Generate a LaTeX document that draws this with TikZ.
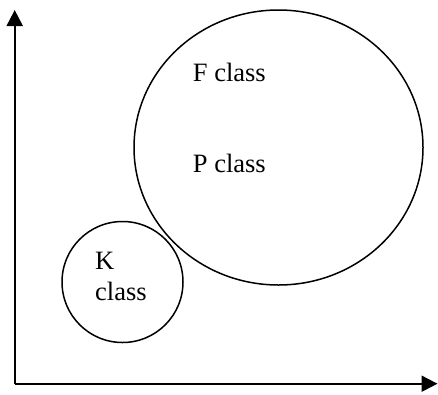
\documentclass[tikz,border=0pt]{standalone}
\usepackage{fontspec}
\setmainfont{Liberation Serif}
\usetikzlibrary{arrows.meta,shapes.geometric}
\begin{document}
\begin{tikzpicture}[x=1pt,y=-1pt,
  axis/.style={line width=2pt,-{Triangle[length=16pt,width=16pt]}},
  setshape/.style={draw,line width=1.5pt,inner sep=0pt},
  lbl/.style={anchor=base west,inner sep=0pt,font=\fontsize{26.5pt}{31pt}\selectfont}]
\useasboundingbox (0,0) rectangle (438,394);
\coordinate (o) at (14.7,383.7);
\coordinate (ytip) at (14.7,10);
\coordinate (xtip) at (437.5,383.7);
\draw[axis] (o) -- (ytip);
\draw[axis] (o) -- (xtip);
\node[setshape,ellipse,minimum width=289pt,minimum height=275pt] (big) at (278.5,147.5) {};
\node[setshape,circle,minimum size=121pt] (small) at (122.5,282) {};
\node[lbl] (f) at (192.7,81.7) {F class};
\node[lbl] (p) at (192.7,172) {P class};
\node[lbl] (k) at (95,269) {K};
\node[lbl] (kc) at (95,300) {class};
\end{tikzpicture}
\end{document}
